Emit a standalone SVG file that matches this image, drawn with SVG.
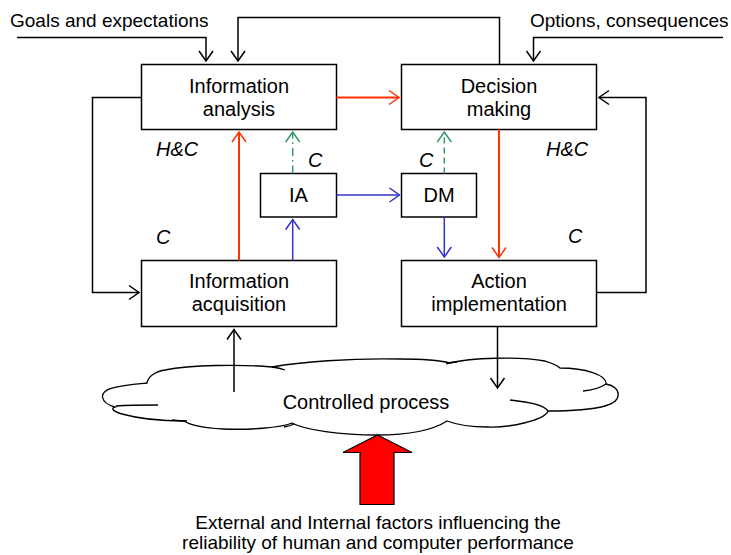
<svg xmlns="http://www.w3.org/2000/svg" width="731" height="555" viewBox="0 0 731 555">
<style>
  .box{fill:#fff;stroke:#000;stroke-width:1.5}
  .t{font-family:"Liberation Sans",Arial,sans-serif;font-size:20px;fill:#000;text-anchor:middle}
  .lbl{font-family:"Liberation Sans",Arial,sans-serif;font-size:19px;fill:#000}
  .it{font-family:"Liberation Sans",Arial,sans-serif;font-size:20px;font-style:italic;fill:#000}
  .c{fill:none;stroke-width:1.5}
  .k{stroke:#000}
  .r{stroke:#FF3300;stroke-width:2}
  .b{stroke:#3333CC}
  .g{stroke:#339966}
</style>
<defs>
  <marker id="ak" markerUnits="userSpaceOnUse" markerWidth="14" markerHeight="18" viewBox="-12 -9 14 18" refX="0" refY="0" orient="auto">
    <path d="M-10,-7 L0,0 L-10,7" fill="none" stroke="#000" stroke-width="1.5"/>
  </marker>
  <marker id="ar" markerUnits="userSpaceOnUse" markerWidth="14" markerHeight="18" viewBox="-12 -9 14 18" refX="0" refY="0" orient="auto">
    <path d="M-10,-7 L0,0 L-10,7" fill="none" stroke="#FF3300" stroke-width="1.5"/>
  </marker>
  <marker id="ab" markerUnits="userSpaceOnUse" markerWidth="14" markerHeight="18" viewBox="-12 -9 14 18" refX="0" refY="0" orient="auto">
    <path d="M-10,-7 L0,0 L-10,7" fill="none" stroke="#3333CC" stroke-width="1.5"/>
  </marker>
  <marker id="ag" markerUnits="userSpaceOnUse" markerWidth="14" markerHeight="18" viewBox="-12 -9 14 18" refX="0" refY="0" orient="auto">
    <path d="M-10,-7 L0,0 L-10,7" fill="none" stroke="#339966" stroke-width="1.5"/>
  </marker>
</defs>
<rect width="731" height="555" fill="#fff"/>

<g id="cloud">
  <path fill="#fff" stroke="#000" stroke-width="1.3" d="M115,407 C100,403 98,392 112,388 C122,385 136,384 147,383 C148,378 153,372 165,370 C190,365 240,364 272,367 C300,362 350,358 400,359 C425,359 442,361 450,363 C470,358 520,356 545,361 C552,363 557,365 560,368 C585,368 607,375 606,384 C622,387 623,401 605,406 C590,410 565,411 548,411 C545,420 510,428 487,427 C470,427 455,424 447,421 C430,432 400,435 377,435 C340,435 305,430 292,423 C280,428 250,430 223,429 C205,428 190,425 184,421 C160,421 140,419 122,414 C112,411 111,408 115,407 Z"/>
  <g fill="none" stroke="#000" stroke-width="1.3">
    <path d="M116,406 C130,405 145,405 158,405"/>
    <path d="M272,367 Q280,368 285,370"/>
    <path d="M446,364 Q451,362 457,362"/>
    <path d="M606,384 Q597,390 583,391"/>
    <path d="M510,400 C530,402 545,406 548,411"/>
    <path d="M284,427 Q290,426 294,424"/>
    <path d="M172,420 Q180,421 187,421"/>
  </g>
  <text class="t" x="366" y="409">Controlled process</text>
</g>

<g id="ia-node"><rect class="box" x="141.5" y="64.5" width="195" height="65"/>
  <text class="t" x="239" y="92.5">Information</text><text class="t" x="239" y="115.5">analysis</text></g>
<g id="dm-node"><rect class="box" x="401.5" y="64.5" width="195" height="65"/>
  <text class="t" x="499" y="92.5">Decision</text><text class="t" x="499" y="115.5">making</text></g>
<g id="iacq-node"><rect class="box" x="141.5" y="260.5" width="195" height="66"/>
  <text class="t" x="239" y="288">Information</text><text class="t" x="239" y="311">acquisition</text></g>
<g id="ai-node"><rect class="box" x="401.5" y="260.5" width="195" height="66"/>
  <text class="t" x="499" y="288">Action</text><text class="t" x="499" y="311">implementation</text></g>
<g id="ia-small"><rect class="box" x="260.5" y="173.5" width="76" height="43.5"/>
  <text class="t" x="298.5" y="202">IA</text></g>
<g id="dm-small"><rect class="box" x="401.5" y="173.5" width="75" height="43.5"/>
  <text class="t" x="439" y="202">DM</text></g>

<g id="connectors">
  <path class="c k" d="M17,37.5 H206 V61" marker-end="url(#ak)"/>
  <path class="c k" d="M499.5,64.5 V17.5 H238 V61" marker-end="url(#ak)"/>
  <path class="c k" d="M723,37.5 H533.5 V61" marker-end="url(#ak)"/>
  <path class="c r" d="M336.5,97.5 H399" marker-end="url(#ar)"/>
  <path class="c k" d="M596.5,292.5 H646 V97.5 H599" marker-end="url(#ak)"/>
  <path class="c k" d="M141.5,97.5 H92.5 V292.5 H139" marker-end="url(#ak)"/>
  <path class="c r" d="M239,260.5 V132" marker-end="url(#ar)"/>
  <path class="c g" d="M292.7,173.5 V132" stroke-dasharray="8,4,1.5,4" marker-end="url(#ag)"/>
  <path class="c g" d="M444.3,173.5 V132" stroke-dasharray="6,4" marker-end="url(#ag)"/>
  <path class="c b" d="M336.5,195 H399.5" marker-end="url(#ab)"/>
  <path class="c b" d="M292.7,260.5 V219.5" marker-end="url(#ab)"/>
  <path class="c b" d="M444.3,217 V257" marker-end="url(#ab)"/>
  <path class="c r" d="M499,129.5 V257.5" marker-end="url(#ar)"/>
  <path class="c k" d="M234,392 V329.5" marker-end="url(#ak)"/>
  <path class="c k" d="M497.5,326.5 V388" marker-end="url(#ak)"/>
</g>

<g id="labels">
  <text class="lbl" x="10" y="27">Goals and expectations</text>
  <text class="lbl" x="530" y="27">Options, consequences</text>
  <text class="it" x="156" y="156">H&amp;C</text>
  <text class="it" x="546" y="156">H&amp;C</text>
  <text class="it" x="308" y="167">C</text>
  <text class="it" x="419" y="167">C</text>
  <text class="it" x="156" y="244">C</text>
  <text class="it" x="568" y="243">C</text>
</g>

<g id="factors">
  <polygon points="377.5,435 412,452.5 394,452.5 394,504.5 360,504.5 360,452.5 343,452.5" fill="#FF0000" stroke="#000" stroke-width="1.2"/>
  <text class="lbl" x="378" y="529" text-anchor="middle">External and Internal factors influencing the</text>
  <text class="lbl" x="378" y="549" text-anchor="middle">reliability of human and computer performance</text>
</g>
</svg>
